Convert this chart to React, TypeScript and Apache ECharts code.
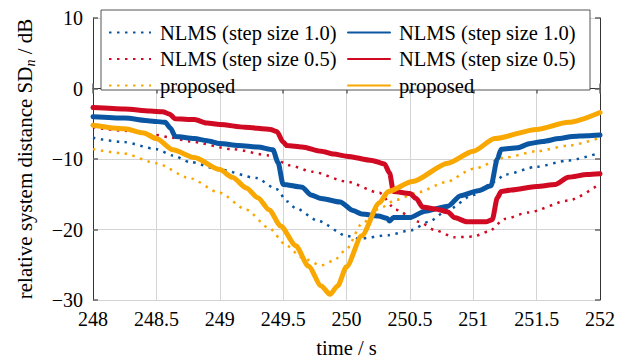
import React, { useEffect, useRef } from "react";
import * as echarts from "echarts";

const X_MIN = 248;
const X_MAX = 252;
const X_STEP = 0.5;
const Y_MIN = -30;
const Y_MAX = 10;
const Y_STEP = 10;

const LABEL_NLMS10 = "NLMS (step size 1.0)";
const LABEL_NLMS05 = "NLMS (step size 0.5)";
const LABEL_PROP = "proposed";

// dotted curves
const nlms10Dotted: [number, number][] = [
  [248, -7.0], [248.24, -7.6], [248.5, -8.6], [248.63, -9.5], [248.76, -10.4], [249.0, -11.5],
  [249.29, -12.7], [249.45, -14.3], [249.53, -16.0], [249.6, -17.0], [249.78, -18.8], [250.0, -20.9],
  [250.1, -21.3], [250.33, -20.8], [250.51, -20.1], [250.65, -18.9], [250.8, -17.2], [251.0, -15.1],
  [251.17, -13.2], [251.25, -12.2], [251.5, -11.1], [251.75, -10.2], [252, -9.1],
];
const nlms05Dotted: [number, number][] = [
  [248, -5.5], [248.25, -6.0], [248.5, -6.6], [248.6, -6.9], [248.76, -7.5], [249.1, -8.6],
  [249.39, -9.5], [249.55, -10.9], [249.73, -11.8], [250.0, -13.2], [250.26, -14.8], [250.39, -17.2],
  [250.57, -18.9], [250.7, -20.1], [250.85, -21.1], [251.0, -21.0], [251.12, -20.3], [251.25, -18.5],
  [251.43, -17.6], [251.75, -15.9], [252, -13.5],
];
const propDotted: [number, number][] = [
  [248, -8.6], [248.24, -9.2], [248.5, -10.6], [248.76, -12.7], [249.0, -14.8], [249.21, -17.2],
  [249.39, -19.8], [249.52, -22.2], [249.65, -24.0], [249.8, -25.1], [249.9, -24.4], [250.0, -22.8],
  [250.12, -19.2], [250.26, -17.0], [250.39, -15.8], [250.57, -14.7], [250.78, -13.3], [251.0, -11.4],
  [251.25, -9.8], [251.5, -8.9], [251.75, -8.1], [252, -7.0],
];

// solid curves
const nlms10Solid: [number, number][] = [
  [248, -4.0], [248.25, -4.2], [248.45, -4.6], [248.57, -4.8], [248.61, -5.6], [248.65, -6.8],
  [248.8, -7.1], [248.9, -7.4], [249.0, -7.8], [249.15, -8.1], [249.3, -8.3], [249.42, -8.7],
  [249.46, -10.5], [249.5, -13.6], [249.65, -14.0], [249.72, -15.1], [249.8, -15.6], [249.95, -16.1],
  [250.05, -17.3], [250.12, -17.8], [250.25, -18.1], [250.32, -18.4], [250.34, -18.8], [250.37, -18.3],
  [250.5, -18.3], [250.62, -17.4], [250.8, -16.7], [250.9, -15.2], [251.04, -14.5], [251.14, -13.8],
  [251.19, -10.0], [251.22, -8.6], [251.35, -8.4], [251.45, -7.8], [251.55, -7.5], [251.68, -7.1],
  [251.78, -6.8], [251.9, -6.7], [252, -6.6],
];
const nlms05Solid: [number, number][] = [
  [248, -2.7], [248.25, -2.9], [248.45, -3.2], [248.55, -3.3], [248.6, -3.6], [248.65, -4.3],
  [248.8, -4.4], [248.9, -4.9], [249.0, -5.1], [249.2, -5.5], [249.4, -5.8], [249.45, -6.1],
  [249.5, -7.6], [249.53, -8.1], [249.65, -8.3], [249.8, -8.9], [249.9, -9.3], [250.0, -9.6],
  [250.2, -10.2], [250.3, -10.7], [250.34, -12.0], [250.37, -14.6], [250.5, -14.9], [250.55, -15.6],
  [250.6, -16.8], [250.7, -17.1], [250.8, -17.5], [250.85, -18.3], [250.95, -18.9], [251.1, -18.9],
  [251.15, -18.6], [251.19, -15.5], [251.22, -14.6], [251.3, -14.4], [251.5, -13.9], [251.65, -13.6],
  [251.75, -12.6], [251.9, -12.2], [252, -12.1],
];
const propSolid: [number, number][] = [
  [248, -5.2], [248.25, -5.7], [248.4, -6.3], [248.5, -7.1], [248.63, -8.7], [248.8, -9.8],
  [249.0, -11.5], [249.1, -12.6], [249.21, -14.1], [249.3, -15.5], [249.39, -17.2], [249.48, -19.5],
  [249.6, -22.3], [249.7, -25.2], [249.8, -28.0], [249.87, -29.2], [249.93, -28.0], [250.0, -25.3],
  [250.12, -20.9], [250.26, -16.2], [250.33, -14.6], [250.52, -13.2], [250.8, -10.6], [251.0, -8.9],
  [251.17, -7.1], [251.5, -5.8], [251.75, -4.8], [252, -3.4],
];

const BLUE = "#0a56a2";
const RED = "#d00a22";
const ORANGE = "#f8a800";
const FONT = "Liberation Serif";
const SOLID_SUFFIX = "\u200b";

const fmtNum = (v: number) => "{t|" + (v < 0 ? "\u2212" + Math.abs(v) : String(v)) + "}";

export default function App() {
  const ref = useRef<HTMLDivElement>(null);
  useEffect(() => {
    if (!ref.current) return;
    const chart = echarts.init(ref.current, undefined, { renderer: "svg" });
    const dotted = (name: string, color: string, data: [number, number][]) => ({
      type: "line",
      name,
      data,
      symbol: "none",
      smooth: 0.25,
      smoothMonotone: "x",
      lineStyle: { color, width: 2.5, type: [2.5, 5.5] },
      itemStyle: { color },
      z: 2,
    });
    const solid = (name: string, color: string, data: [number, number][]) => ({
      type: "line",
      name: name + SOLID_SUFFIX,
      data,
      symbol: "none",
      smooth: 0.25,
      smoothMonotone: "x",
      lineStyle: { color, width: 5, type: "solid", cap: "round", join: "round" },
      itemStyle: { color },
      z: 3,
    });
    const legendCommon = {
      orient: "vertical",
      top: 22,
      itemWidth: 42,
      itemHeight: 14,
      itemGap: 5.5,
      selectedMode: false,
      z: 10,
      padding: 0,
      itemStyle: { color: "transparent", borderColor: "transparent", borderWidth: 0, opacity: 0 },
      formatter: (n: string) => n.replace(SOLID_SUFFIX, ""),
      textStyle: { fontFamily: FONT, fontSize: 20.5, color: "#000", padding: [0, 0, 0, 4] },
    };
    const axisLine = { show: true, lineStyle: { color: "#333", width: 1 } };
    const axisTick = { show: true, inside: true, length: 5, lineStyle: { color: "#666", width: 1.5 } };
    const richT = { t: { fontFamily: FONT, fontSize: 20, color: "#000" } };
    const tickLabel = { fontFamily: FONT, fontSize: 20, color: "#000", formatter: fmtNum, rich: richT };
    chart.setOption({
      animation: false,
      backgroundColor: "#fff",
      textStyle: { fontFamily: FONT, color: "#000" },
      grid: { left: 93, right: 16, top: 18, bottom: 60, containLabel: false },
      graphic: [
        {
          type: "rect",
          z: 5,
          shape: { x: 101, y: 10, width: 489, height: 80 },
          style: { fill: "#fff", stroke: "#555", lineWidth: 1 },
        },
      ],
      legend: [
        { ...legendCommon, left: 108, data: [LABEL_NLMS10, LABEL_NLMS05, LABEL_PROP] },
        {
          ...legendCommon,
          left: 347,
          data: [LABEL_NLMS10 + SOLID_SUFFIX, LABEL_NLMS05 + SOLID_SUFFIX, LABEL_PROP + SOLID_SUFFIX],
        },
      ],
      xAxis: [
        {
          type: "value",
          min: X_MIN,
          max: X_MAX,
          interval: X_STEP,
          name: "{t|time / s}",
          nameLocation: "middle",
          nameGap: 37,
          nameTextStyle: {
            fontFamily: FONT,
            fontSize: 20.5,
            color: "#000",
            rich: { t: { fontFamily: FONT, fontSize: 20.5, color: "#000" } },
          },
          axisLine,
          axisTick,
          axisLabel: { ...tickLabel, margin: 9 },
          splitLine: { show: true, lineStyle: { color: "#d4d4d4", width: 1 } },
        },
        {
          type: "value",
          position: "top",
          min: X_MIN,
          max: X_MAX,
          interval: X_STEP,
          axisLine,
          axisTick,
          axisLabel: { show: false },
          splitLine: { show: false },
        },
      ],
      yAxis: [
        {
          type: "value",
          min: Y_MIN,
          max: Y_MAX,
          interval: Y_STEP,
          name: "relative system distance SD{sub|n} / dB",
          nameLocation: "middle",
          nameGap: 56,
          nameTextStyle: {
            fontFamily: FONT,
            fontSize: 21,
            color: "#000",
            lineHeight: 24,
            rich: {
              sub: { fontFamily: FONT, fontSize: 14, fontStyle: "italic", color: "#000", lineHeight: 24, verticalAlign: "bottom" },
            },
          },
          axisLine,
          axisTick,
          axisLabel: { ...tickLabel, margin: 10 },
          splitLine: { show: true, lineStyle: { color: "#d4d4d4", width: 1 } },
        },
        {
          type: "value",
          position: "right",
          min: Y_MIN,
          max: Y_MAX,
          interval: Y_STEP,
          axisLine,
          axisTick,
          axisLabel: { show: false },
          splitLine: { show: false },
        },
      ],
      series: [
        dotted(LABEL_NLMS10, BLUE, nlms10Dotted),
        solid(LABEL_NLMS10, BLUE, nlms10Solid),
        dotted(LABEL_NLMS05, RED, nlms05Dotted),
        solid(LABEL_NLMS05, RED, nlms05Solid),
        dotted(LABEL_PROP, ORANGE, propDotted),
        solid(LABEL_PROP, ORANGE, propSolid),
      ],
    });
    return () => chart.dispose();
  }, []);
  return <div ref={ref} style={{ position: "fixed", left: 0, top: 0, width: 618, height: 363 }} />;
}
